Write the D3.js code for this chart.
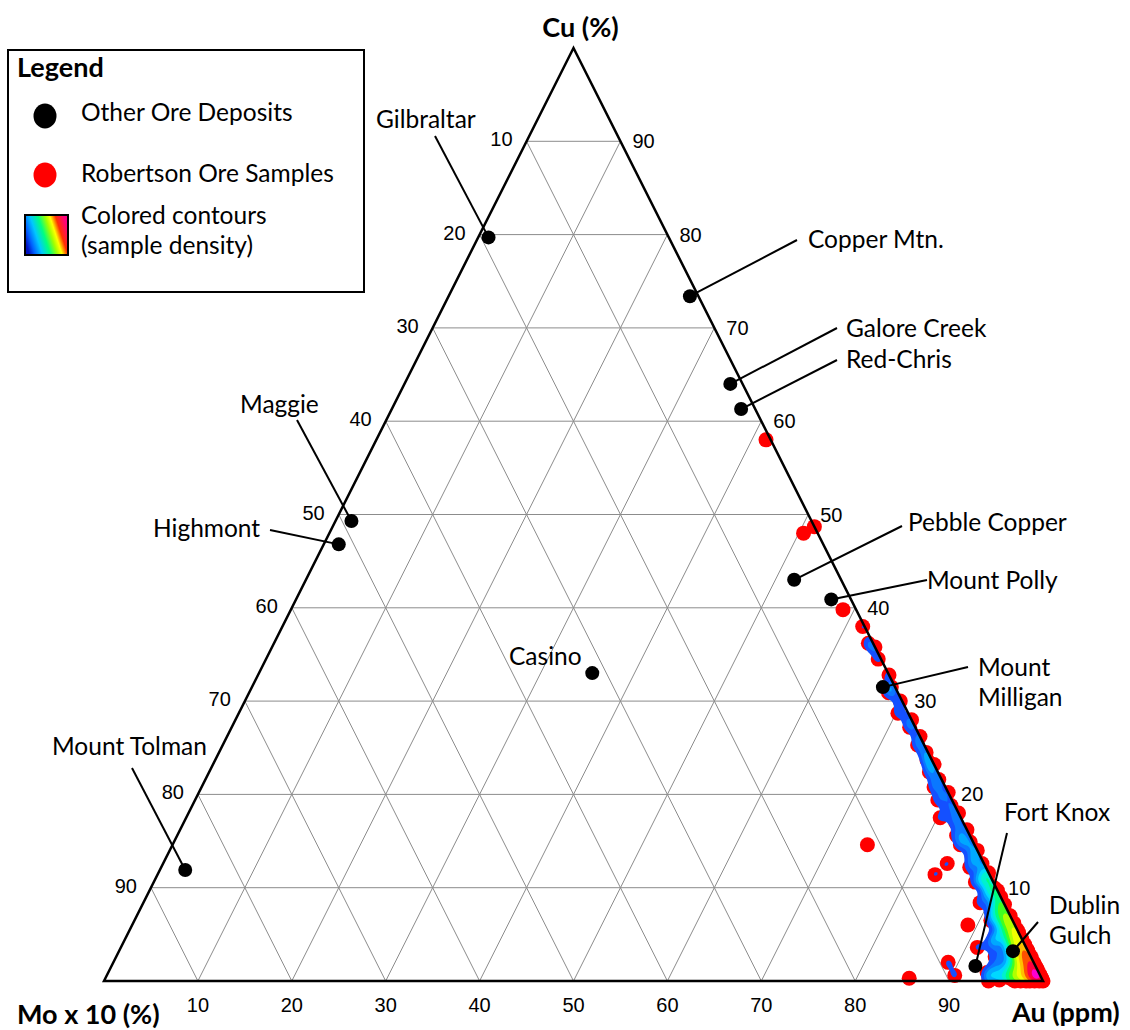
<!DOCTYPE html>
<html lang="en">
<head>
<meta charset="utf-8">
<title>Ternary plot: Cu - Mo x 10 - Au</title>
<script src="https://cdn.jsdelivr.net/npm/d3@7"></script>
<style>
body { margin: 0; background: #fff; }
text { font-family: Lato, "Open Sans", sans-serif; fill: #000; }
.tick text { font-family: "Liberation Sans", Arial, sans-serif; font-size: 20px; }
.title { font-weight: bold; font-size: 27px; }
.lbl, .lbl text { font-size: 24.5px; }
.grid line { stroke: #8c8c8c; stroke-width: 1; }
</style>
</head>
<body>
<svg id="chart" width="1130" height="1030"></svg>
<script>

// --- data (percent) ---
var tickValues = [10, 20, 30, 40, 50, 60, 70, 80, 90];

var depositNames = ["Gilbraltar", "Copper Mtn.", "Galore Creek", "Red-Chris", "Maggie", "Highmont",
                    "Casino", "Mount Tolman", "Pebble Copper", "Mount Polly", "Mount Milligan",
                    "Fort Knox", "Dublin Gulch"];
var depositCu = [79.7, 73.4, 64.0, 61.3, 49.3, 46.8, 33.0, 11.9, 43.0, 40.9, 31.5, 1.6, 3.2];
var depositAu = [1.1, 25.7, 34.7, 37.2, 1.7, 1.6, 35.5, 2.7, 52.0, 57.0, 67.2, 92.0, 95.2];

// Robertson samples as [Cu, Mo x 10]; Au is the remainder
var robertsonSamples = [
  [58.0,0.5],[48.7,0.0],[48.0,1.5],[39.8,1.4],[38.0,0.2],[36.2,0.5],[35.8,0.0],[34.5,0.3],
  [32.8,0.0],[31.5,0.4],[30.9,1.0],[30.0,0.2],[28.7,1.1],[28.0,0.0],[27.2,0.6],[26.2,0.0],
  [25.3,0.7],[24.5,0.2],[23.7,0.5],[23.2,0.0],[22.4,0.9],[21.6,0.3],[20.8,1.2],[20.2,0.0],
  [19.4,1.5],[18.8,0.4],[18.0,0.0],[17.5,2.2],[17.0,0.8],[16.2,0.0],[15.6,1.4],[14.9,0.3],
  [14.6,1.5],[14.0,0.0],[13.3,0.9],[12.6,0.2],[12.2,1.7],[11.6,0.0],[11.0,0.8],[10.6,1.9],
  [10.0,0.2],[9.4,1.2],[9.0,0.0],[8.4,2.5],[8.0,0.6],[7.4,1.6],[7.0,0.0],[6.5,2.3],
  [6.0,0.9],[5.5,0.0],[5.0,1.8],[4.7,2.8],[4.4,0.5],[4.0,3.4],[3.8,1.2],[3.2,0.0],
  [3.0,2.2],[2.6,3.8],[2.4,0.8],[2.0,1.6],[1.8,0.0],[1.5,3.0],[1.2,4.4],[1.0,0.6],
  [0.9,5.5],[0.8,2.0],[0.5,1.0],[0.3,0.0],[0.2,3.2],[0.1,4.6],[0.0,2.4],[0.0,5.8],
  [0.0,0.4],[0.0,1.4],
  [11.2,0.3],[10.3,0.5],[9.7,0.0],[8.7,0.4],[8.2,0.0],[7.7,0.3],[7.2,0.8],[6.6,0.2],
  [6.3,1.2],[5.8,0.5],[5.2,0.0],[4.8,0.8],[4.2,1.5],[3.9,0.0],[3.5,0.4],[2.9,1.0],
  [2.7,0.0],[2.1,0.3],[1.5,0.0],[1.1,0.8],[0.6,0.0],[0.2,0.4],
  // scattered
  [14.6,11.4],[12.6,3.9],[11.4,5.8],[6.0,5.0],[3.6,5.2],[2.0,9.1],[0.6,9.1],[0.3,14.1],
  // corner cluster
  [0.0,0.0],[0.2,0.1],[0.4,0.0],[0.6,0.3],[0.8,0.0],[1.0,0.2],[1.2,0.0],[1.4,0.5],
  [1.6,0.1],[2.0,0.0],[2.2,0.4],[2.5,0.0],[2.8,0.6],[3.0,0.1],[3.4,0.0],[3.6,0.7],
  [4.0,0.2],[4.5,0.0],[5.0,0.5],[5.5,0.1],[6.2,0.0],[6.8,0.4],[0.1,0.6],[0.3,1.1],
  [0.0,1.8],[0.5,2.0],[1.1,1.3],[1.7,1.0],[2.3,1.5],[3.1,1.0],[0.0,3.0],[0.4,3.6],
  [0.9,2.6],[1.4,2.1],[0.0,0.9],[0.1,0.3],[0.3,0.0],[0.7,0.7],[1.3,0.0],[1.9,0.6]
];

var densityColors = ["#1450ff", "#0a78ff", "#00a8ff", "#00d8ff", "#00f0d0", "#00ff80",
                     "#40ff20", "#b0ff00", "#f0ff00", "#ffc000", "#ff5000", "#ff0040", "#ff00d0"];

// --- layout ---
var svg = d3.select("#chart");

var y = d3.scaleLinear().domain([0, 100]).range([981, 48]);      // Cu
var x = d3.scaleLinear().domain([0, 100]).range([104, 1043]);    // Au + Cu/2

function pt(cu, au) { return [x(au + cu / 2), y(cu)]; }

// label positions and leader starts (pixels)
var labelLayout = {
  "Gilbraltar":     { tx: 376, ty: 128, lines: ["Gilbraltar"], lx: 435, ly: 136 },
  "Copper Mtn.":    { tx: 808, ty: 248, lines: ["Copper Mtn."], lx: 797, ly: 240 },
  "Galore Creek":   { tx: 846, ty: 337, lines: ["Galore Creek"], lx: 837, ly: 328 },
  "Red-Chris":      { tx: 846, ty: 368, lines: ["Red-Chris"], lx: 837, ly: 360 },
  "Maggie":         { tx: 240, ty: 413, lines: ["Maggie"], lx: 297, ly: 420 },
  "Highmont":       { tx: 153, ty: 537, lines: ["Highmont"], lx: 270, ly: 530 },
  "Casino":         { tx: 509, ty: 665, lines: ["Casino"] },
  "Mount Tolman":   { tx: 52,  ty: 755, lines: ["Mount Tolman"], lx: 132, ly: 768 },
  "Pebble Copper":  { tx: 908, ty: 531, lines: ["Pebble Copper"], lx: 902, ly: 526 },
  "Mount Polly":    { tx: 927, ty: 589, lines: ["Mount Polly"], lx: 927, ly: 580 },
  "Mount Milligan": { tx: 978, ty: 676, lines: ["Mount", "Milligan"], lx: 968, ly: 667 },
  "Fort Knox":      { tx: 1004, ty: 821, lines: ["Fort Knox"], lx: 1007, ly: 833 },
  "Dublin Gulch":   { tx: 1049, ty: 914, lines: ["Dublin", "Gulch"], lx: 1038, ly: 922 }
};

var A = pt(100, 0), B = pt(0, 0), C = pt(0, 100);   // Cu, Mo, Au corners

// --- grid ---
var grid = svg.append("g").attr("class", "grid");
tickValues.forEach(function(v) {
  var lines = [
    [pt(v, 0), pt(v, 100 - v)],          // Cu const
    [pt(0, v), pt(100 - v, v)],          // Au const
    [pt(0, 100 - v), pt(100 - v, 0)]     // Mo const
  ];
  lines.forEach(function(l) {
    grid.append("line")
      .attr("x1", l[0][0]).attr("y1", l[0][1])
      .attr("x2", l[1][0]).attr("y2", l[1][1]);
  });
});

// --- red samples ---
var samples = robertsonSamples.map(function(d) { return pt(d[0], 100 - d[0] - d[1]); });

svg.append("g").selectAll("circle")
  .data(samples)
  .enter().append("circle")
    .attr("cx", function(d) { return d[0]; })
    .attr("cy", function(d) { return d[1]; })
    .attr("r", 7.5)
    .attr("fill", "#ff0000");

// --- density contours (gaussian kernel on a pixel grid) ---
var cell = 2, gx0 = 700, gy0 = 560, n = 180, m = 220, sig = 6.5;
var vals = new Float64Array(n * m);
samples.forEach(function(p) {
  var i0 = Math.max(0, Math.floor((p[0] - 3 * sig - gx0) / cell)),
      i1 = Math.min(n - 1, Math.ceil((p[0] + 3 * sig - gx0) / cell)),
      j0 = Math.max(0, Math.floor((p[1] - 3 * sig - gy0) / cell)),
      j1 = Math.min(m - 1, Math.ceil((p[1] + 3 * sig - gy0) / cell));
  for (var j = j0; j <= j1; j++) {
    for (var i = i0; i <= i1; i++) {
      var dx = gx0 + (i + 0.5) * cell - p[0], dy = gy0 + (j + 0.5) * cell - p[1];
      vals[i + j * n] += Math.exp(-(dx * dx + dy * dy) / (2 * sig * sig));
    }
  }
});
var vmax = d3.max(vals);
// first level (outer blue), the rest spaced geometrically up to the peak
var lvl = d3.scaleLog().domain([1.5, vmax * 0.92]).range([1, densityColors.length - 1]);
var levels = [1.0].concat(d3.range(1, densityColors.length).map(function(i) { return lvl.invert(i); }));
var contours = d3.contours().size([n, m]).thresholds(levels)(vals);
var gridPath = d3.geoPath(d3.geoTransform({
  point: function(px, py) { this.stream.point(gx0 + px * cell, gy0 + py * cell); }
}));

svg.append("clipPath").attr("id", "tri")
  .append("path").attr("d", "M" + A + "L" + B + "L" + C + "Z");

svg.append("g").attr("clip-path", "url(#tri)")
  .selectAll("path")
  .data(contours)
  .enter().append("path")
    .attr("d", gridPath)
    .attr("fill", function(d, i) { return densityColors[i]; });

// --- triangle outline ---
svg.append("path")
  .attr("d", "M" + A + "L" + B + "L" + C + "Z")
  .attr("fill", "none")
  .attr("stroke", "#000")
  .attr("stroke-width", 2.5)
  .attr("stroke-linejoin", "miter");

// --- tick labels ---
var ticks = svg.append("g").attr("class", "tick");
tickValues.forEach(function(v) {
  var r = pt(v, 100 - v);      // right edge, Cu
  ticks.append("text").attr("x", r[0] + 12).attr("y", r[1]).attr("dy", "0.35em").text(v);
  var l = pt(100 - v, 0);      // left edge, Mo
  ticks.append("text").attr("x", l[0] - 14).attr("y", l[1] - 2).attr("dy", "0.35em")
    .attr("text-anchor", "end").text(v);
  var b = pt(0, v);            // bottom, Au
  ticks.append("text").attr("x", b[0]).attr("y", b[1] + 31).attr("text-anchor", "middle").text(v);
});

// --- axis titles ---
svg.append("text").attr("class", "title").attr("x", A[0] + 7).attr("y", 37)
  .attr("text-anchor", "middle").text("Cu (%)");
svg.append("text").attr("class", "title").attr("x", 17).attr("y", 1024).text("Mo x 10 (%)");
svg.append("text").attr("class", "title").attr("x", 1012).attr("y", 1022).text("Au (ppm)");

// --- deposits: leaders, dots, labels ---
var deposits = depositNames.map(function(name, i) {
  return { name: name, p: pt(depositCu[i], depositAu[i]), lay: labelLayout[name] };
});

svg.append("g").selectAll("line")
  .data(deposits.filter(function(d) { return d.lay.lx != null; }))
  .enter().append("line")
    .attr("x1", function(d) { return d.lay.lx; })
    .attr("y1", function(d) { return d.lay.ly; })
    .attr("x2", function(d) { return d.p[0]; })
    .attr("y2", function(d) { return d.p[1]; })
    .attr("stroke", "#000")
    .attr("stroke-width", 2);

svg.append("g").selectAll("circle")
  .data(deposits)
  .enter().append("circle")
    .attr("cx", function(d) { return d.p[0]; })
    .attr("cy", function(d) { return d.p[1]; })
    .attr("r", 7)
    .attr("fill", "#000");

var labels = svg.append("g").attr("class", "lbl");
deposits.forEach(function(d) {
  var t = labels.append("text").attr("x", d.lay.tx).attr("y", d.lay.ty);
  d.lay.lines.forEach(function(s, i) {
    t.append("tspan").attr("x", d.lay.tx).attr("dy", i ? 30 : 0).text(s);
  });
});

// --- legend ---
var defs = svg.append("defs");
var grad = defs.append("linearGradient").attr("id", "rainbow")
  .attr("x1", 0).attr("y1", 0.65).attr("x2", 1).attr("y2", 0.35);
[["0", "#0010c0"], ["0.12", "#0060ff"], ["0.28", "#00c8ff"], ["0.45", "#00ff80"],
 ["0.6", "#a0ff00"], ["0.7", "#ffff00"], ["0.82", "#ff3000"], ["1", "#ff0080"]]
  .forEach(function(s) { grad.append("stop").attr("offset", s[0]).attr("stop-color", s[1]); });

var leg = svg.append("g");
leg.append("rect").attr("x", 8).attr("y", 50).attr("width", 356).attr("height", 242)
  .attr("fill", "#fff").attr("stroke", "#000").attr("stroke-width", 2);
leg.append("text").attr("x", 17).attr("y", 77).attr("font-weight", "bold").attr("font-size", 27)
  .text("Legend");
leg.append("ellipse").attr("cx", 45).attr("cy", 116).attr("rx", 11.5).attr("ry", 12.5).attr("fill", "#000");
leg.append("ellipse").attr("cx", 45).attr("cy", 175).attr("rx", 11.5).attr("ry", 12.5).attr("fill", "#ff0000");
leg.append("rect").attr("x", 25).attr("y", 215).attr("width", 43).attr("height", 40)
  .attr("fill", "url(#rainbow)").attr("stroke", "#000").attr("stroke-width", 2);
[["Other Ore Deposits", 121], ["Robertson Ore Samples", 182], ["Colored contours", 224], ["(sample density)", 254]]
  .forEach(function(s) {
    leg.append("text").attr("class", "lbl").attr("x", 81).attr("y", s[1]).text(s[0]);
  });

</script>
</body>
</html>
